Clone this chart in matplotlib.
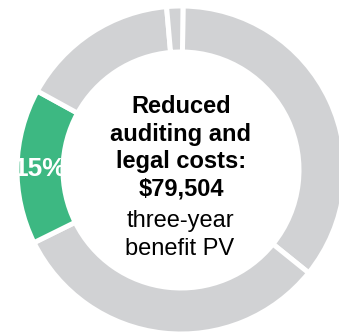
import matplotlib
matplotlib.use("Agg")
import matplotlib.pyplot as plt

# Data (clockwise from the top)
segment_names = ["Other benefit A", "Other benefit B", "Reduced auditing and legal costs",
                 "Other benefit C", "Other benefit D"]
segment_shares = [35.6, 31.9, 15.3, 15.6, 1.6]
segment_colors = ["#D1D2D4", "#D1D2D4", "#3DB882", "#D1D2D4", "#D1D2D4"]
highlight_index = 2
highlight_label = "15%"
title_lines = ["Reduced", "auditing and", "legal costs:", "$79,504"]
subtitle_lines = ["three-year", "benefit PV"]

W, H = 339, 336
DPI = 100
fig = plt.figure(figsize=(W / DPI, H / DPI), dpi=DPI)
ax = fig.add_axes([0, 0, 1, 1])

R_PX = 164.0
CX, CY = 181.0, 170.0  # center in pixels from top-left
WIDTH = 46.0 / R_PX

wedges, _ = ax.pie(segment_shares, colors=segment_colors, startangle=89.3,
                   counterclock=False, radius=1.0,
                   wedgeprops=dict(width=WIDTH, edgecolor="white", linewidth=3.6))

ax.set_xlim(-CX / R_PX, (W - CX) / R_PX)
ax.set_ylim(-(H - CY) / R_PX, CY / R_PX)
ax.set_aspect("auto")
ax.axis("off")

import numpy as np
w = wedges[highlight_index]
mid = np.deg2rad((w.theta1 + w.theta2) / 2)
rmid = 1.0 - WIDTH / 2
ax.text(rmid * np.cos(mid), rmid * np.sin(mid) - 0.01, highlight_label,
        ha="center", va="center", color="white", fontsize=19, fontweight="bold",
        family="Liberation Sans", clip_on=False)

def fig_xy(px, py):
    return px / W, 1 - py / H

baselines_bold = [113, 140.5, 168, 195.5]
for line, yb in zip(title_lines, baselines_bold):
    fig.text(*fig_xy(181, yb), line, ha="center", va="baseline", fontsize=17,
             fontweight="bold", family="Liberation Sans", color="#000000")
baselines_reg = [227.5, 255]
for line, yb in zip(subtitle_lines, baselines_reg):
    fig.text(*fig_xy(180, yb), line, ha="center", va="baseline", fontsize=17,
             family="Liberation Sans", color="#000000")

fig.savefig("out.png", dpi=DPI)
